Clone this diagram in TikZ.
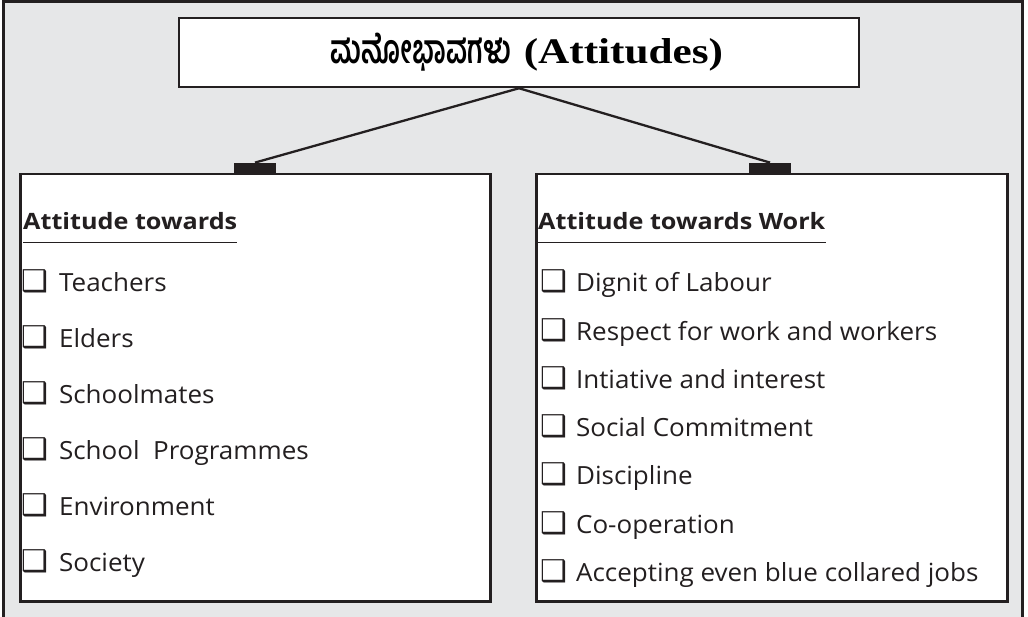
\documentclass[tikz,border=0pt]{standalone}
\usepackage{fontspec}
\setmainfont[FakeStretch=1.04]{Open Sans}
\newfontfamily\headfont[FakeStretch=1.12]{Open Sans}
\newfontfamily\kanfont[Script=Kannada,FakeStretch=0.68]{Hind Mysuru}
\newfontfamily\serfont[FakeStretch=1.2]{Liberation Serif}
\newfontfamily\symfont{DejaVu Sans}
\definecolor{panelgray}{HTML}{E6E7E8}
\definecolor{ink}{HTML}{231F20}
\newcommand\chk{{\symfont\fontsize{30}{30}\selectfont ❑}}
\tikzset{
  boxstyle/.style={draw=ink, line width=2.5pt, fill=white, inner sep=0pt},
  tabstyle/.style={fill=ink, draw=none, minimum width=42pt, minimum height=10pt, inner sep=0pt},
  conn/.style={draw=ink, line width=2.3pt},
  headstyle/.style={font=\headfont\fontsize{22.5}{26}\selectfont\bfseries, text=ink, inner sep=0pt, anchor=base west},
  itemstyle/.style={font=\fontsize{25}{28}\selectfont, text=ink, inner sep=0pt, anchor=base west},
  uline/.style={draw=ink, line width=1pt}
}
\begin{document}
\begin{tikzpicture}[x=1pt,y=-1pt]
\useasboundingbox (0,0) rectangle (1028,617);
\fill[white] (0,0) rectangle (1028,617);
\fill[panelgray] (3,1) rectangle (1022,617);
\draw[ink, line width=3pt] (3.5,617) -- (3.5,1.5) -- (1022,1.5) -- (1022,617);

\node[boxstyle, minimum width=680pt, minimum height=69pt] (title) at (519,52.5)
  {\hspace{16pt}{\kanfont\bfseries\fontsize{40}{44}\selectfont ಮನೋಭಾವಗಳು}\hspace{13pt}{\serfont\bfseries\fontsize{36}{40}\selectfont (Attitudes)}};

\node[boxstyle, minimum width=470pt, minimum height=427pt, anchor=north west] (lbox) at (19,173) {};
\node[boxstyle, minimum width=471pt, minimum height=427pt, anchor=north west] (rbox) at (535,173) {};

\node[tabstyle, anchor=south] (ltab) at (255,173) {};
\node[tabstyle, anchor=south] (rtab) at (770,173) {};
\draw[conn] (title.south) -- (ltab.north);
\draw[conn] (title.south) -- (rtab.north);

\node[headstyle] (lh) at (23,230) {Attitude towards};
\node[headstyle] (rh) at (538,230) {Attitude towards Work};
\draw[uline] ([yshift=-13pt]lh.base west) -- ([yshift=-13pt]lh.base east);
\draw[uline] ([yshift=-13pt]rh.base west) -- ([yshift=-13pt]rh.base east);

\foreach \t [count=\i] in {Teachers, Elders, Schoolmates, School\ \ Programmes, Environment, Society}
  \node[itemstyle] (l\i) at (21,{292+55.8*(\i-1)}) {\chk\hspace{11pt}\t};

\foreach \t [count=\i] in {Dignit of Labour, Respect for work and workers, Intiative and interest, Social Commitment, Discipline, Co-operation, Accepting even blue collared jobs}
  \node[itemstyle] (r\i) at (540,{292+48.2*(\i-1)}) {\chk\hspace{9pt}\t};
\end{tikzpicture}
\end{document}
